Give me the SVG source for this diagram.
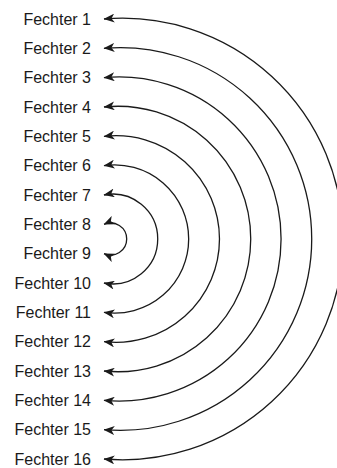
<svg xmlns="http://www.w3.org/2000/svg" width="337" height="468" viewBox="0 0 337 468">
<defs>
<style>
text{font-family:"Liberation Sans",Arial,sans-serif;font-size:16px;fill:#1a1a1a;text-anchor:end}
.c{fill:none;stroke:#1a1a1a;stroke-width:1.3;marker-start:url(#ah);marker-end:url(#ah)}
</style>
<marker id="ah" viewBox="0 0 11 9" refX="10.5" refY="4.5" markerWidth="11" markerHeight="9" markerUnits="userSpaceOnUse" orient="auto-start-reverse">
<path d="M0,0 L11,4.5 L0,9 L3,4.5 Z" fill="#1a1a1a"/>
</marker>
</defs>
<rect width="337" height="468" fill="#fff"/>
<g id="connectors">
<path class="c" d="M104,19 A220.76,220.76 0 1 1 104,459"/>
<path class="c" d="M104,48.33 A191.37,191.37 0 1 1 104,429.67"/>
<path class="c" d="M104,77.67 A162.03,162.03 0 1 1 104,400.33"/>
<path class="c" d="M104,107 A132.74,132.74 0 1 1 104,371"/>
<path class="c" d="M104,136.33 A103.38,103.38 0 1 1 104,341.67"/>
<path class="c" d="M104,165.67 A74.09,74.09 0 1 1 104,312.33"/>
<path class="c" d="M104,195 A44.88,44.88 0 1 1 104,283"/>
<path class="c" d="M104,224.33 A16.09,16.09 0 1 1 104,253.67"/>
</g>
<g id="f1"><text x="91" y="24.5">Fechter 1</text></g>
<g id="f2"><text x="91" y="53.8">Fechter 2</text></g>
<g id="f3"><text x="91" y="83.2">Fechter 3</text></g>
<g id="f4"><text x="91" y="112.5">Fechter 4</text></g>
<g id="f5"><text x="91" y="141.8">Fechter 5</text></g>
<g id="f6"><text x="91" y="171.2">Fechter 6</text></g>
<g id="f7"><text x="91" y="200.5">Fechter 7</text></g>
<g id="f8"><text x="91" y="229.8">Fechter 8</text></g>
<g id="f9"><text x="91" y="259.2">Fechter 9</text></g>
<g id="f10"><text x="91" y="288.5">Fechter 10</text></g>
<g id="f11"><text x="91" y="317.8">Fechter 11</text></g>
<g id="f12"><text x="91" y="347.2">Fechter 12</text></g>
<g id="f13"><text x="91" y="376.5">Fechter 13</text></g>
<g id="f14"><text x="91" y="405.8">Fechter 14</text></g>
<g id="f15"><text x="91" y="435.2">Fechter 15</text></g>
<g id="f16"><text x="91" y="464.5">Fechter 16</text></g>
</svg>
